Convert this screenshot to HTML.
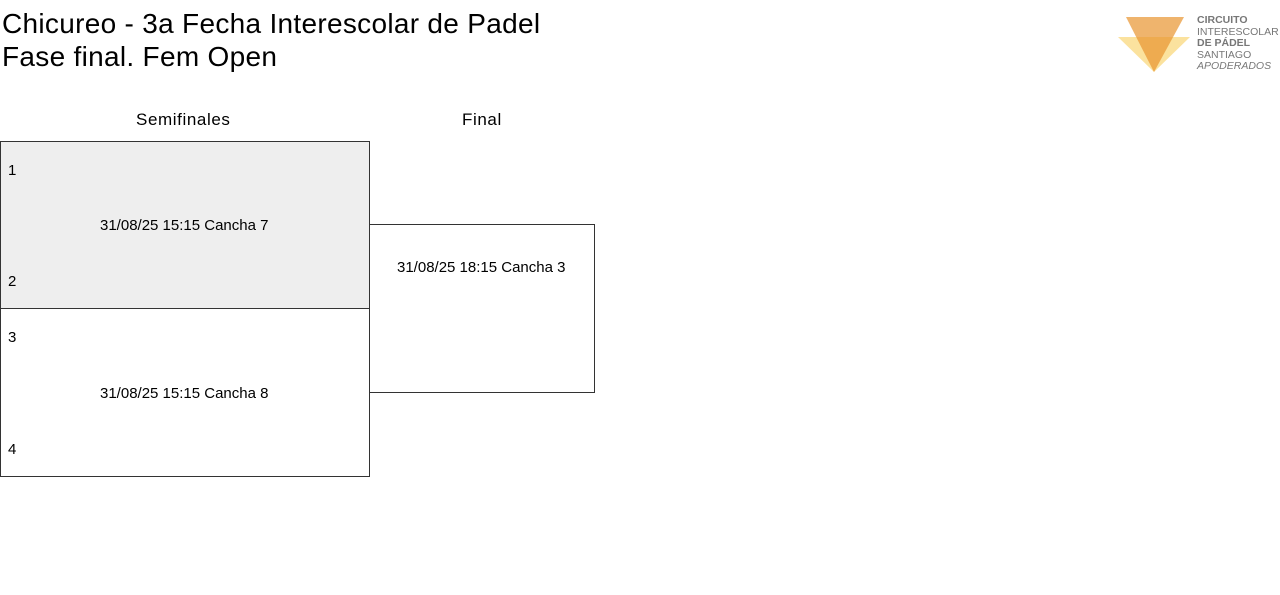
<!DOCTYPE html>
<html><head><meta charset="utf-8"><style>
body{margin:0;width:1280px;height:595px;background:#fff;font-family:"Liberation Sans",sans-serif;color:#000;position:relative;overflow:hidden}
.a{position:absolute;white-space:nowrap}
.t{font-size:28px;left:2px;line-height:32px;letter-spacing:0.3px}
.box{position:absolute;border:1px solid #333;box-sizing:border-box}
.s{font-size:15px}
</style></head><body>
<div class="a t" style="top:8px">Chicureo - 3a Fecha Interescolar de Padel</div>
<div class="a t" style="top:41px">Fase final. Fem Open</div>
<svg class="a" style="left:1118px;top:15px" width="75" height="60">
<polygon points="0,22 72,22 36,57" fill="#f9cf5e" opacity="0.6"/>
<polygon points="8,2 66,2 36,57" fill="#e8942f" opacity="0.7"/>
</svg>
<div class="a" style="left:1197px;top:15px;font-size:10.5px;line-height:11.5px;color:#777">
<b>CIRCUITO</b><br>INTERESCOLAR<br><b>DE PÁDEL</b><br>SANTIAGO<br><i>APODERADOS</i></div>
<div class="a s" style="left:136px;top:110px;font-size:17px;letter-spacing:0.6px">Semifinales</div>
<div class="a s" style="left:462px;top:110px;font-size:17px;letter-spacing:0.6px">Final</div>
<div class="box" style="left:0;top:141px;width:370px;height:168px;background:#eeeeee"></div>
<div class="box" style="left:0;top:308px;width:370px;height:169px"></div>
<div class="box" style="left:369px;top:224px;width:226px;height:169px"></div>
<div class="a s" style="left:8px;top:162px">1</div>
<div class="a s" style="left:8px;top:273px">2</div>
<div class="a s" style="left:8px;top:329px">3</div>
<div class="a s" style="left:8px;top:441px">4</div>
<div class="a s" style="left:100px;top:217px">31/08/25 15:15 Cancha 7</div>
<div class="a s" style="left:100px;top:385px">31/08/25 15:15 Cancha 8</div>
<div class="a s" style="left:397px;top:259px">31/08/25 18:15 Cancha 3</div>
</body></html>
